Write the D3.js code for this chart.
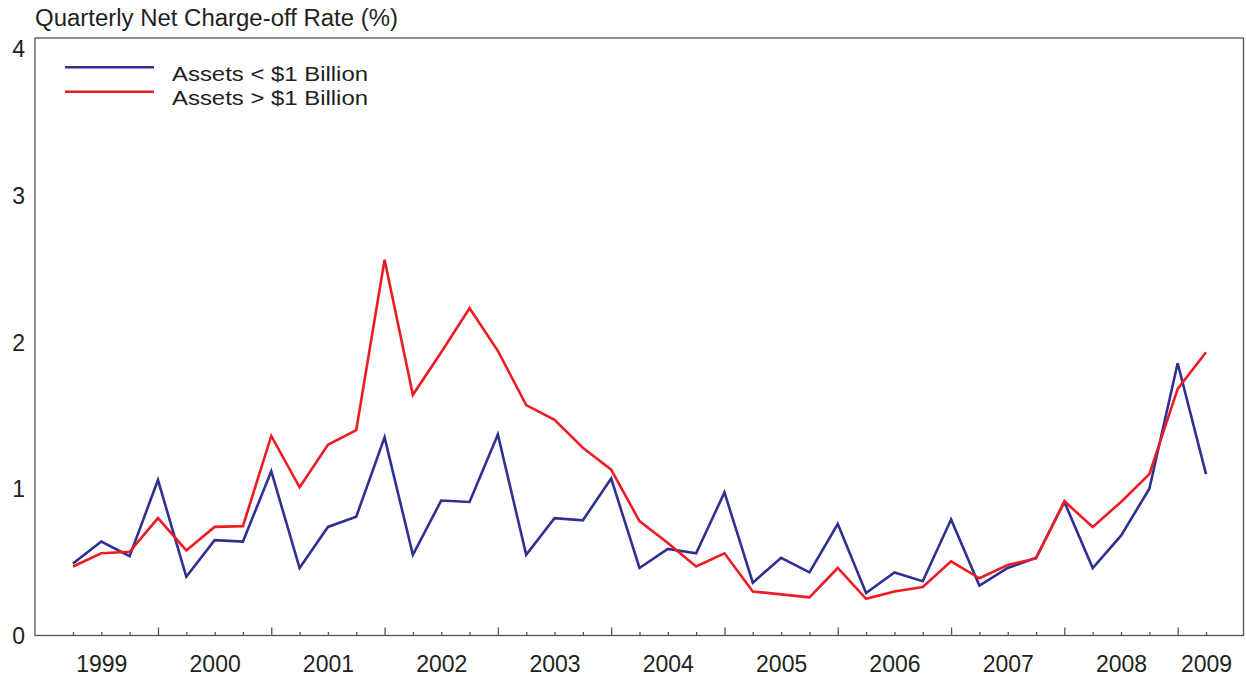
<!DOCTYPE html>
<html>
<head>
<meta charset="utf-8">
<script src="https://cdn.jsdelivr.net/npm/d3@7"></script>
<style>
  html, body { margin: 0; padding: 0; background: #fff; }
  svg { display: block; font-family: "Liberation Sans", Arial, Helvetica, sans-serif; }
</style>
</head>
<body>
<svg id="chart" width="1246" height="676"></svg>
<script>
// Quarterly observations, 1999 Q1 through 2009 Q1
const quarters = d3.range(41).map(i => `${1999 + Math.floor(i / 4)} Q${(i % 4) + 1}`);

// Net charge-off rate (%), banks with assets under $1 billion
const smallBanks = [
  0.49, 0.64, 0.54, 1.06, 0.40, 0.65, 0.64, 1.12, 0.46, 0.74,
  0.81, 1.35, 0.55, 0.92, 0.91, 1.37, 0.55, 0.80, 0.785, 1.07,
  0.46, 0.59, 0.56, 0.975, 0.36, 0.53, 0.43, 0.76, 0.29, 0.43,
  0.37, 0.79, 0.34, 0.46, 0.53, 0.91, 0.46, 0.68, 1.00, 1.855,
  1.10
];

// Net charge-off rate (%), banks with assets over $1 billion
const largeBanks = [
  0.47, 0.56, 0.57, 0.80, 0.58, 0.74, 0.745, 1.36, 1.01, 1.30,
  1.40, 2.56, 1.64, 1.93, 2.23, 1.94, 1.57, 1.47, 1.28, 1.13,
  0.78, 0.63, 0.47, 0.56, 0.30, 0.28, 0.26, 0.46, 0.25, 0.30,
  0.33, 0.505, 0.39, 0.48, 0.525, 0.915, 0.74, 0.91, 1.10, 1.68,
  1.93
];

const yTicks = [0, 1, 2, 3, 4];
const yearLabels = ["1999", "2000", "2001", "2002", "2003", "2004", "2005", "2006", "2007", "2008", "2009"];
const seriesNames = ["Assets < $1 Billion", "Assets > $1 Billion"];
const seriesColors = ["#2e3192", "#ed1c24"];

const svg = d3.select("#chart");
const textColor = "#231f20";
const frame = { left: 35, top: 38, right: 1243.5, bottom: 635.5 };

const x = d3.scaleLinear().domain([0, quarters.length - 1]).range([73, 1206]);
const y = d3.scaleLinear().domain([0, 4]).range([635.5, 48.5]);

// Plot frame
svg.append("rect")
  .attr("x", frame.left).attr("y", frame.top)
  .attr("width", frame.right - frame.left).attr("height", frame.bottom - frame.top)
  .attr("fill", "none").attr("stroke", "#555").attr("stroke-width", 1.3);

// Quarter ticks, pointing into the plot; longer ticks close each year (Q4)
const idx = d3.range(quarters.length);
const minorIdx = idx.filter(i => i % 4 !== 3);
const majorIdx = idx.filter(i => i % 4 === 3);

function tickAxis(values, size) {
  const g = svg.append("g")
    .attr("transform", `translate(0,${frame.bottom})`)
    .call(d3.axisBottom(x).tickValues(values).tickSize(-size).tickFormat(""));
  g.select(".domain").remove();
  g.selectAll(".tick line").attr("stroke", "#555").attr("stroke-width", 1.3);
  return g;
}
tickAxis(minorIdx, 3.5);
tickAxis(majorIdx, 8);

// Year labels sit under the second quarter of each year (first quarter for 2009)
const labelIdx = yearLabels.map((yr, k) => k === yearLabels.length - 1 ? 40 : k * 4 + 1);
const xLabels = svg.append("g")
  .attr("transform", `translate(0,${frame.bottom})`)
  .call(d3.axisBottom(x).tickValues(labelIdx).tickSize(0).tickPadding(0)
    .tickFormat((d, k) => yearLabels[k]));
xLabels.select(".domain").remove();
xLabels.selectAll("text")
  .attr("dy", null).attr("y", 36.5)
  .attr("font-size", 23).attr("fill", textColor)
  .attr("font-family", "'Liberation Sans', Arial, sans-serif");

// Y axis labels (no tick marks)
const yAxis = svg.append("g")
  .attr("transform", `translate(${frame.left},0)`)
  .call(d3.axisLeft(y).tickValues(yTicks).tickSize(0).tickPadding(10).tickFormat(d3.format("d")));
yAxis.select(".domain").remove();
yAxis.selectAll("text")
  .attr("font-size", 23).attr("fill", textColor)
  .attr("dy", "0.35em")
  .attr("font-family", "'Liberation Sans', Arial, sans-serif");

// Title
svg.append("text")
  .attr("x", 35).attr("y", 26)
  .attr("font-size", 23).attr("fill", textColor)
  .attr("textLength", 363).attr("lengthAdjust", "spacingAndGlyphs")
  .text("Quarterly Net Charge-off Rate (%)");

// Series lines
const line = d3.line().x((d, i) => x(i)).y(d => y(d));
[smallBanks, largeBanks].forEach((vals, k) => {
  svg.append("path")
    .datum(vals)
    .attr("d", line)
    .attr("fill", "none")
    .attr("stroke", seriesColors[k])
    .attr("stroke-width", 2.6)
    .attr("stroke-linejoin", "miter");
});

// Legend: swatches and labels
const legendY = [67.3, 91.7];
const legendTextY = [80.5, 104.5];
seriesNames.forEach((name, k) => {
  svg.append("line")
    .attr("x1", 65).attr("x2", 154)
    .attr("y1", legendY[k]).attr("y2", legendY[k])
    .attr("stroke", seriesColors[k]).attr("stroke-width", 2.6);
  svg.append("text")
    .attr("x", 172).attr("y", legendTextY[k])
    .attr("font-size", 20.5).attr("fill", textColor)
    .attr("textLength", 196).attr("lengthAdjust", "spacingAndGlyphs")
    .text(name);
});
</script>
</body>
</html>
